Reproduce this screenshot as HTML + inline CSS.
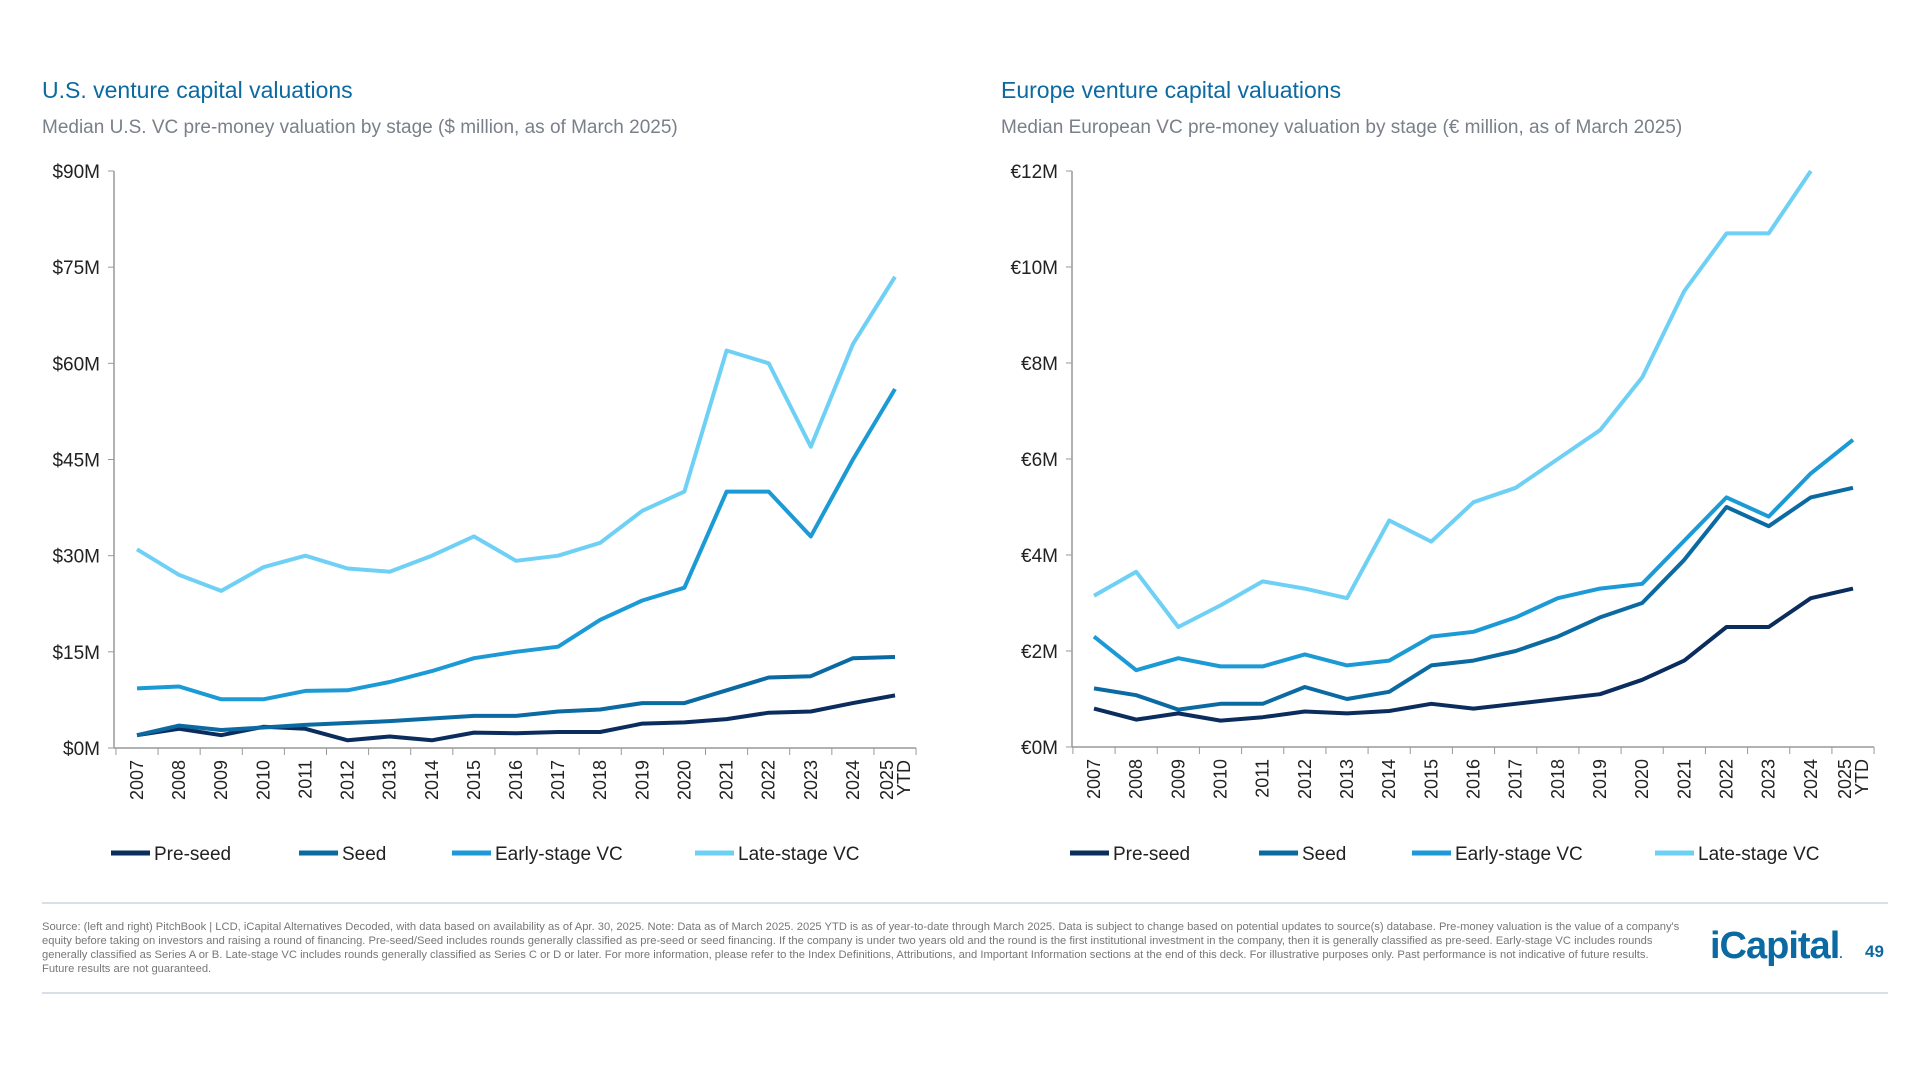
<!DOCTYPE html>
<html><head><meta charset="utf-8"><style>
body{margin:0;width:1920px;height:1080px;background:#fff;font-family:"Liberation Sans",sans-serif;overflow:hidden;position:relative}
.t{position:absolute;color:#0b6aa2;font-size:23px}
.s{position:absolute;color:#7a8089;font-size:19px}
.foot{position:absolute;left:42px;top:920px;width:1640px;font-size:11.2px;line-height:14px;color:#777}
.hr{position:absolute;left:42px;width:1846px;height:2px;background:#d8dfe8}
</style></head><body>
<div class="t" style="left:42px;top:77px">U.S. venture capital valuations</div>
<div class="s" style="left:42px;top:117px">Median U.S. VC pre-money valuation by stage ($ million, as of March 2025)</div>
<div class="t" style="left:1001px;top:77px">Europe venture capital valuations</div>
<div class="s" style="left:1001px;top:117px">Median European VC pre-money valuation by stage (€ million, as of March 2025)</div>
<svg id="sv" width="1920" height="1080" style="position:absolute;left:0;top:0" font-family="Liberation Sans, sans-serif"></svg>
<div class="hr" style="top:902px"></div>
<div class="hr" style="top:992px"></div>
<div class="foot">Source: (left and right) PitchBook | LCD, iCapital Alternatives Decoded, with data based on availability as of Apr. 30, 2025. Note: Data as of March 2025. 2025 YTD is as of year-to-date through March 2025. Data is subject to change based on potential updates to source(s) database. Pre-money valuation is the value of a company's equity before taking on investors and raising a round of financing. Pre-seed/Seed includes rounds generally classified as pre-seed or seed financing. If the company is under two years old and the round is the first institutional investment in the company, then it is generally classified as pre-seed. Early-stage VC includes rounds generally classified as Series A or B. Late-stage VC includes rounds generally classified as Series C or D or later. For more information, please refer to the Index Definitions, Attributions, and Important Information sections at the end of this deck. For illustrative purposes only. Past performance is not indicative of future results. Future results are not guaranteed.</div>
<div style="position:absolute;left:1710px;top:925px;font-size:38px;color:#0b6aa2;letter-spacing:-1px;font-weight:bold">iCapital<span style="font-size:12px">.</span></div>
<div style="position:absolute;left:1865px;top:942px;font-size:17px;color:#0b6aa2;font-weight:bold">49</div>
<script>
var C=["#0a2d5e","#0b6aa2","#1b9ad6","#6fd0f5"],N=["Pre-seed","Seed","Early-stage VC","Late-stage VC"];
var yrs=[];for(var y=2007;y<=2025;y++)yrs.push(""+y);
var h="";
function chart(ax,x0,x1,xe,yt,yb,max,step,pre,data,leg){
 h+='<line x1="'+ax+'" y1="'+yt+'" x2="'+ax+'" y2="'+yb+'" stroke="#999" stroke-width="1.5"/>';
 h+='<line x1="'+ax+'" y1="'+yb+'" x2="'+xe+'" y2="'+yb+'" stroke="#999" stroke-width="1.5"/>';
 for(var v=0;v<=max;v+=step){var y=yb-v/max*(yb-yt);
  h+='<line x1="'+(ax-6)+'" y1="'+y+'" x2="'+ax+'" y2="'+y+'" stroke="#999"/>';
  h+='<text x="'+(ax-14)+'" y="'+(y+7)+'" font-size="19" fill="#222" text-anchor="end">'+pre+v+'M</text>';}
 var dx=(x1-x0)/18;
 for(var i=0;i<=19;i++){var x=x0-dx/2+i*dx;h+='<line x1="'+x+'" y1="'+yb+'" x2="'+x+'" y2="'+(yb+7)+'" stroke="#999"/>';}
 for(var i=0;i<19;i++){var x=x0+i*dx;
  if(i<18)h+='<text transform="translate('+(x+6)+','+(yb+12)+') rotate(-90)" font-size="18" fill="#222" text-anchor="end">'+yrs[i]+'</text>';
  else h+='<text transform="translate('+(x-2)+','+(yb+12)+') rotate(-90)" font-size="18" fill="#222" text-anchor="end">2025</text><text transform="translate('+(x+15)+','+(yb+12)+') rotate(-90)" font-size="18" fill="#222" text-anchor="end">YTD</text>';}
 for(var s=0;s<4;s++){var p=data[s].map(function(v,i){return (x0+i*dx).toFixed(1)+','+(yb-v/max*(yb-yt)).toFixed(1)}).join(' ');
  h+='<polyline points="'+p+'" fill="none" stroke="'+C[s]+'" stroke-width="4" stroke-linejoin="round"/>';
  h+='<line x1="'+leg[s]+'" y1="853" x2="'+(leg[s]+39)+'" y2="853" stroke="'+C[s]+'" stroke-width="5"/>';
  h+='<text x="'+(leg[s]+43)+'" y="860" font-size="19" fill="#222">'+N[s]+'</text>';}
}
chart(114,137,895,916,171,748,90,15,"$",[
[2,3,2,3.3,3,1.2,1.8,1.2,2.4,2.3,2.5,2.5,3.8,4,4.5,5.5,5.7,7,8.2],
[2,3.5,2.8,3.2,3.6,3.9,4.2,4.6,5,5,5.7,6,7,7,9,11,11.2,14,14.2],
[9.3,9.6,7.6,7.6,8.9,9,10.3,12,14,15,15.8,20,23,25,40,40,33,45,56],
[31,27,24.5,28.2,30,28,27.5,30,33,29.2,30,32,37,40,62,60,47,63,73.5]],[111,299,452,695]);
chart(1072,1094,1853,1874,171,747,12,2,"€",[
[0.8,0.57,0.7,0.55,0.62,0.74,0.7,0.75,0.9,0.8,0.9,1.0,1.1,1.4,1.8,2.5,2.5,3.1,3.3],
[1.22,1.08,0.78,0.9,0.9,1.25,1.0,1.15,1.7,1.8,2.0,2.3,2.7,3.0,3.9,5.0,4.6,5.2,5.4],
[2.3,1.6,1.85,1.68,1.68,1.93,1.7,1.8,2.3,2.4,2.7,3.1,3.3,3.4,4.3,5.2,4.8,5.7,6.4],
[3.15,3.65,2.5,2.95,3.45,3.3,3.1,4.72,4.28,5.1,5.4,6.0,6.6,7.7,9.5,10.7,10.7,12]],[1070,1259,1412,1655]);
document.getElementById("sv").innerHTML=h;
</script>
</body></html>
